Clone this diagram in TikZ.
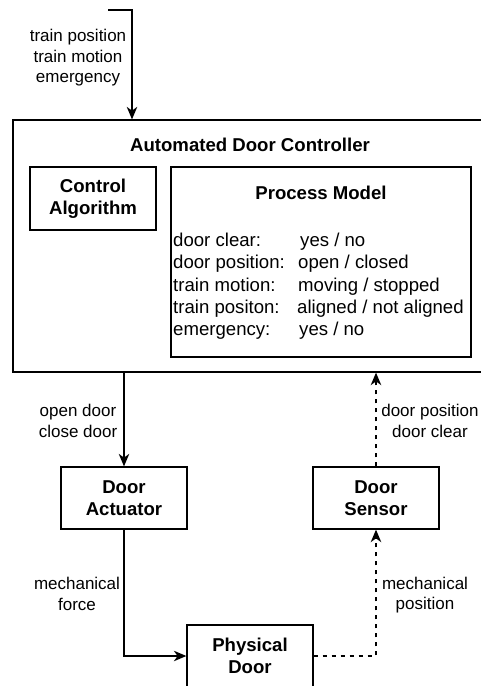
\documentclass[tikz,border=0pt]{standalone}
\usepackage{fontspec}
\setmainfont{Liberation Sans}
\usetikzlibrary{arrows.meta,positioning}

\begin{document}
\begin{tikzpicture}[x=1pt,y=-1pt,
  box/.style={draw=black,line width=1.3pt,fill=white,inner sep=0pt,align=center,
              font=\fontsize{18.6}{22.3}\selectfont\bfseries},
  boldtext/.style={inner sep=0pt,align=center,font=\fontsize{18.6}{22.3}\selectfont\bfseries},
  rowtext/.style={inner sep=0pt,anchor=base west,font=\fontsize{18.6}{22.3}\selectfont},
  edgelabel/.style={inner sep=0pt,align=center,font=\fontsize{17}{20.4}\selectfont},
  flow/.style={line width=1.3pt,-{Stealth[length=12.5pt,width=10.5pt,inset=3.8pt]}},
  flowdash/.style={flow,dash pattern=on 4.5pt off 4.5pt}]

\useasboundingbox (0,0) rectangle (480,686);

% controller and its inner blocks
\node[box,minimum width=474,minimum height=252] (ctrl) at (250,246) {};
\node[boldtext] (ctrltitle) at (250,145) {Automated Door Controller};
\node[box,minimum width=126,minimum height=63] (alg) at (93,198.5) {Control\\Algorithm};
\node[box,minimum width=300,minimum height=190] (pm) at (321,262) {};
\node[boldtext] (pmtitle) at (321,193) {Process Model};

% process model variables and their values
\node[rowtext] (r1) at (173,246.5) {door clear:};
\node[rowtext] (v1) at (300,246.5) {yes / no};
\node[rowtext] (r2) at (173,268.8) {door position:};
\node[rowtext] (v2) at (298,268.8) {open / closed};
\node[rowtext] (r3) at (173,291.1) {train motion:};
\node[rowtext] (v3) at (298,291.1) {moving / stopped};
\node[rowtext] (r4) at (173,313.4) {train positon:};
\node[rowtext] (v4) at (297,313.4) {aligned / not aligned};
\node[rowtext] (r5) at (173,335.7) {emergency:};
\node[rowtext] (v5) at (299,335.7) {yes / no};

% plant side
\node[box,minimum width=126,minimum height=62] (act) at (124,498) {Door\\Actuator};
\node[box,minimum width=126,minimum height=62] (sen) at (376,498) {Door\\Sensor};
\node[box,minimum width=126,minimum height=62] (door) at (250,656) {Physical\\Door};

% connectors
\coordinate (src) at (108,10);
\coordinate (inx) at (132,0);
\draw[flow] (src) -| (ctrl.north -| inx);
\draw[flow] (ctrl.south -| act.north) -- (act.north);
\draw[flowdash] (sen.north) -- (sen.north |- ctrl.south);
\draw[flow] (act.south) |- (door.west);
\draw[flowdash] (door.east) -| (sen.south);

% connector labels
\node[edgelabel] (l1) at (78,58) {train position\\train motion\\emergency};
\node[edgelabel] (l2) at (78,421) {open door\\close door};
\node[edgelabel] (l3) at (430,421) {door position\\door clear};
\node[edgelabel] (l4) at (77,594) {mechanical\\force};
\node[edgelabel] (l5) at (425,595) {mechanical\\position};

\end{tikzpicture}
\end{document}
